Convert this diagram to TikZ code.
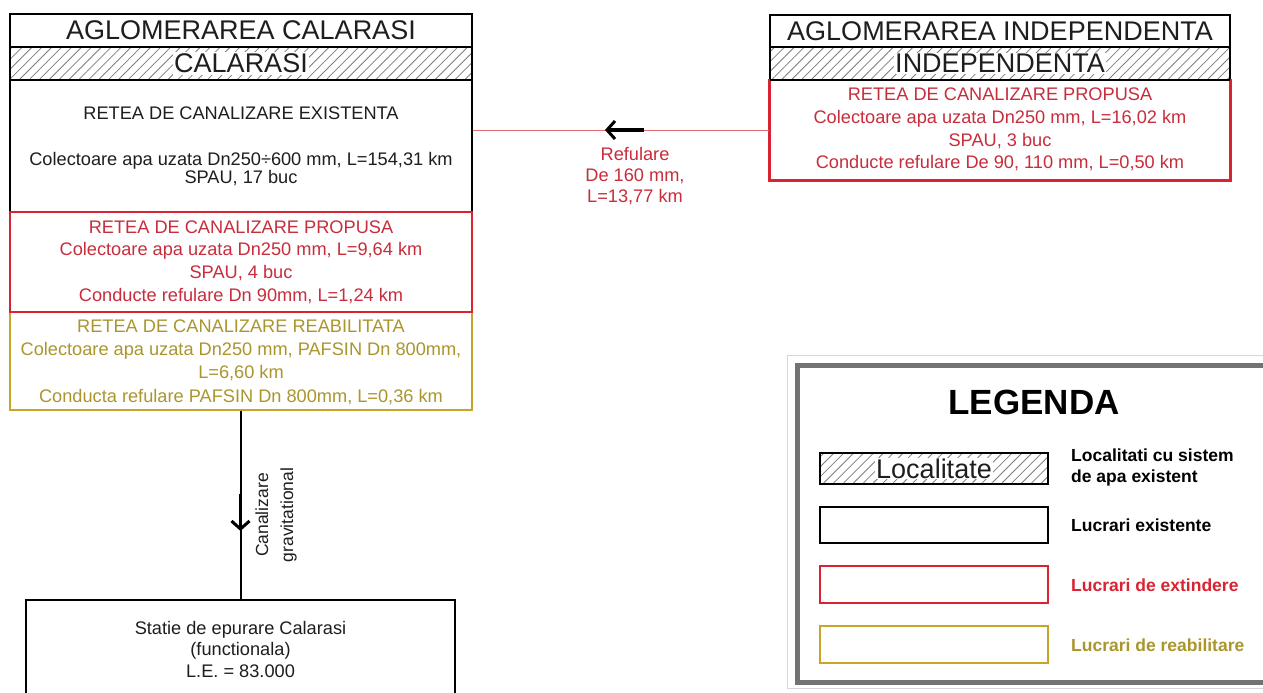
\documentclass[tikz,border=0pt]{standalone}
\usepackage{fontspec}
\setmainfont{Liberation Sans}
\usetikzlibrary{patterns.meta,arrows.meta}
\definecolor{redb}{RGB}{218,35,50}
\definecolor{redt}{RGB}{200,45,60}
\definecolor{redl}{RGB}{225,110,115}
\definecolor{oliveb}{RGB}{200,165,40}
\definecolor{olivet}{RGB}{170,150,45}
\definecolor{hatchc}{RGB}{125,125,125}
\definecolor{frameg}{RGB}{115,115,115}
\definecolor{framel}{RGB}{215,215,215}
\definecolor{ink}{RGB}{30,30,30}
\tikzset{
  box/.style={draw=black, line width=2.2pt, inner sep=0pt, fill=white},
  titlecell/.style={box, font=\fontsize{27}{29}\selectfont, text=ink},
  hatchcell/.style={draw=black, line width=2.2pt, inner sep=0pt,
    pattern={Lines[angle=45,distance=7pt,line width=0.8pt]}, pattern color=hatchc},
  hatchtext/.style={fill=white, inner sep=1.5pt, font=\fontsize{27}{29}\selectfont, text=ink},
  redbox/.style={draw=redb, line width=2.2pt, inner sep=0pt},
  olivebox/.style={draw=oliveb, line width=2.2pt, inner sep=0pt},
  txt/.style={font=\fontsize{18.2}{18.5}\selectfont, align=center, inner sep=0pt, text=ink},
  redtxt/.style={txt, text=redt},
  olivetxt/.style={txt, text=olivet},
  bigarrow/.style={line width=3.2pt, -{Straight Barb[length=8pt,width=18pt,line width=3pt]}},
  legtxt/.style={font=\fontsize{17.5}{21}\selectfont\bfseries, anchor=west, align=left, inner sep=0pt},
}
\begin{document}
\begin{tikzpicture}[x=1pt,y=-1pt]
\useasboundingbox (0,0) rectangle (1263,693);
\clip (0,0) rectangle (1263,693);
\fill[white] (0,0) rectangle (1263,693);

% ---------------- left column ----------------
\node[box, minimum width=462pt, minimum height=132pt] (ex) at (241,146) {};
\node[olivebox, minimum width=462pt, minimum height=98pt] (yb) at (241,361) {};
\node[redbox, minimum width=462pt, minimum height=100pt] (rb) at (241,262) {};
\node[titlecell, minimum width=462pt, minimum height=33pt] (t1) at (241,30.5) {AGLOMERAREA CALARASI};
\node[hatchcell, minimum width=462pt, minimum height=33pt] (h1) at (241,63.5) {};
\node[hatchtext] (h1t) at (h1.center) {CALARASI};

\node[txt] (ex1) at (241,113) {RETEA DE CANALIZARE EXISTENTA};
\node[txt] (ex2) at (241,169) {Colectoare apa uzata Dn250÷600 mm, L=154,31 km\\SPAU, 17 buc};
\node[redtxt, font=\fontsize{18.2}{22.7}\selectfont] (rb1) at (241,262)
  {RETEA DE CANALIZARE PROPUSA\\Colectoare apa uzata Dn250 mm, L=9,64 km\\SPAU, 4 buc\\Conducte refulare Dn 90mm, L=1,24 km};
\node[olivetxt, font=\fontsize{18.2}{23.3}\selectfont] (yb1) at (241,362)
  {RETEA DE CANALIZARE REABILITATA\\Colectoare apa uzata Dn250 mm, PAFSIN Dn 800mm,\\L=6,60 km\\Conducta refulare PAFSIN Dn 800mm, L=0,36 km};

% station
\node[box, minimum width=429pt, minimum height=140pt, anchor=north] (st) at (240.5,599) {};
\node[txt, font=\fontsize{18.2}{21.5}\selectfont] (st1) at (240.5,649)
  {Statie de epurare Calarasi\\(functionala)\\L.E. = 83.000};

% gravity connector
\draw[line width=2pt] (yb.south -| st.north) -- (st.north);
\coordinate (va1) at (240.5,494);
\coordinate (va2) at (240.5,531);
\draw[bigarrow] (va1) -- (va2);
\node[txt, rotate=90, font=\fontsize{17.5}{25}\selectfont] (gl) at (276,515) {Canalizare\\gravitational};

% ---------------- right column ----------------
\node[redbox, minimum width=460pt, minimum height=100pt] (rr) at (1000,130) {};
\node[titlecell, minimum width=460pt, minimum height=32pt] (t2) at (1000,31) {AGLOMERAREA INDEPENDENTA};
\node[hatchcell, minimum width=460pt, minimum height=33pt] (h2) at (1000,63.5) {};
\node[hatchtext] (h2t) at (h2.center) {INDEPENDENTA};
\draw[redb, line width=2.2pt] (rr.north west) -- (rr.south west) -- (rr.south east) -- (rr.north east);
\node[redtxt, font=\fontsize{18.2}{22.7}\selectfont] (rr1) at (1000,129.5)
  {RETEA DE CANALIZARE PROPUSA\\Colectoare apa uzata Dn250 mm, L=16,02 km\\SPAU, 3 buc\\Conducte refulare De 90, 110 mm, L=0,50 km};

% refulare connector
\draw[redl, line width=1pt] (rr.west) -- (rr.west -| ex.east);
\coordinate (ha1) at (644,130);
\coordinate (ha2) at (605,130);
\draw[bigarrow] (ha1) -- (ha2);
\node[redtxt, font=\fontsize{18.2}{21}\selectfont] (rl) at (635,176) {Refulare\\De 160 mm,\\L=13,77 km};

% ---------------- legend ----------------
\draw[framel, line width=1pt] (787,355) rectangle (1290,688);
\node[draw=frameg, line width=5pt, minimum width=480pt, minimum height=317pt, anchor=north west, inner sep=0pt] (lg) at (795,363) {};
\node[font=\fontsize{35}{38}\selectfont\bfseries, inner sep=0pt] (lgt) at (1034,402) {LEGENDA};

\node[hatchcell, line width=2pt, minimum width=228pt, minimum height=31pt] (lb1) at (934,468.5) {};
\node[hatchtext, inner sep=1pt] (lb1t) at (lb1.center) {Localitate};
\node[box, minimum width=228pt, minimum height=36pt] (lb2) at (934,525) {};
\node[redbox, line width=2.8pt, minimum width=228pt, minimum height=37pt] (lb3) at (934,584.5) {};
\node[olivebox, line width=2.8pt, minimum width=228pt, minimum height=37pt] (lb4) at (934,644.5) {};

\node[legtxt] (l1) at (1071,467) {Localitati cu sistem\\de apa existent};
\node[legtxt] (l2) at (1071,525) {Lucrari existente};
\node[legtxt, text=redb] (l3) at (1071,585) {Lucrari de extindere};
\node[legtxt, text=olivet] (l4) at (1071,645) {Lucrari de reabilitare};
\end{tikzpicture}
\end{document}
